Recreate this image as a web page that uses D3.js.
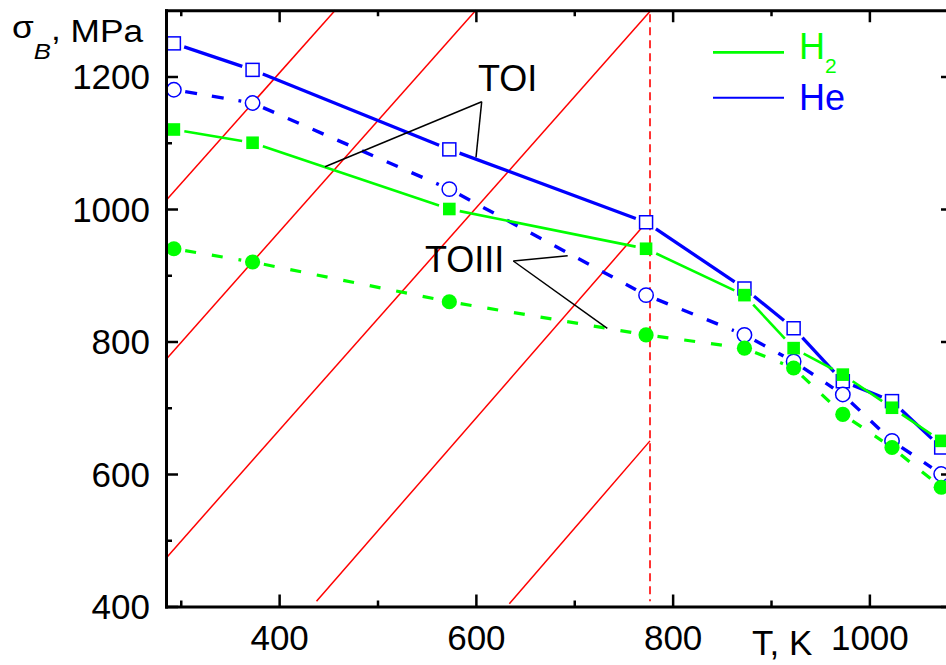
<!DOCTYPE html>
<html>
<head>
<meta charset="utf-8">
<script src="https://cdn.jsdelivr.net/npm/d3@7"></script>
<style>
  body { margin: 0; background: #fff; }
  svg { display: block; font-family: "Liberation Sans", Arial, sans-serif; }
</style>
</head>
<body>
<script>
// temperature, K
var temps = [293, 373, 573, 773, 873, 923, 973, 1023, 1073];
// ultimate strength sigma_B, MPa
var heTOI   = [1250, 1210, 1090, 980, 880, 820, 740, 710, 640];
var heTOIII = [1180, 1160, 1030, 870, 810, 770, 720, 650, 600];
var h2TOI   = [1120, 1100, 1000, 940, 870, 790, 750, 700, 650];
var h2TOIII = [940, 920, 860, 810, 790, 760, 690, 640, 580];

// thin red guide lines, end points as [T, MPa]
var guideLines = [
  [[285, 1013], [457, 1300]],
  [[285, 773], [600, 1300]],
  [[285, 473], [778, 1300]],
  [[438, 408], [777, 986]],
  [[634, 404], [777, 650]]
];
var tLimit = 777;

var xMajor = [400, 600, 800, 1000];
var xMinor = [300, 500, 700, 900];
var yMajor = [400, 600, 800, 1000, 1200];
var yMinor = [500, 700, 900, 1100];

var BLUE = "#0000ff", GREEN = "#00ff00", RED = "#ff0000";

var width = 946, height = 665;
var svg = d3.select("body").append("svg")
  .attr("width", width)
  .attr("height", height);

var x = d3.scaleLinear().domain([285, 1085]).range([166, 953]);
var y = d3.scaleLinear().domain([400, 1300]).range([606.5, 10.25]);
var fmt = d3.format("d");

// guide lines
svg.append("g").selectAll("line")
  .data(guideLines)
  .enter().append("line")
  .attr("x1", function(d) { return x(d[0][0]); })
  .attr("y1", function(d) { return y(d[0][1]); })
  .attr("x2", function(d) { return x(d[1][0]); })
  .attr("y2", function(d) { return y(d[1][1]); })
  .attr("stroke", RED)
  .attr("stroke-width", 1.5);

svg.append("line")
  .attr("x1", x(tLimit)).attr("x2", x(tLimit))
  .attr("y1", y(1294)).attr("y2", y(408))
  .attr("stroke", RED)
  .attr("stroke-width", 1.6)
  .attr("stroke-dasharray", "8,5");

// data series
var series = [
  { values: heTOI,   color: BLUE,  shape: "square", filled: false, dash: null,    lw: 3.3 },
  { values: heTOIII, color: BLUE,  shape: "circle", filled: false, dash: "12,15", lw: 3.4 },
  { values: h2TOI,   color: GREEN, shape: "square", filled: true,  dash: null,    lw: 2.6 },
  { values: h2TOIII, color: GREEN, shape: "circle", filled: true,  dash: "11,16", lw: 3.2 }
];

function edge(s, ux, uy) {
  if (s.shape === "square") {
    return 6.5 / Math.max(Math.abs(ux), Math.abs(uy));
  }
  return 7.5;
}

series.forEach(function(s) {
  var pts = temps.map(function(t, i) { return [x(t), y(s.values[i])]; });
  var segs = [];
  for (var i = 0; i < pts.length - 1; i++) {
    var p = pts[i], q = pts[i + 1];
    var dx = q[0] - p[0], dy = q[1] - p[1];
    var len = Math.sqrt(dx * dx + dy * dy);
    var ux = dx / len, uy = dy / len;
    var g = edge(s, ux, uy) + 4;
    if (len > 2 * g) {
      segs.push([p[0] + ux * g, p[1] + uy * g, q[0] - ux * g, q[1] - uy * g]);
    }
  }
  var g = svg.append("g");
  g.selectAll("line")
    .data(segs)
    .enter().append("line")
    .attr("x1", function(d) { return d[0]; })
    .attr("y1", function(d) { return d[1]; })
    .attr("x2", function(d) { return d[2]; })
    .attr("y2", function(d) { return d[3]; })
    .attr("stroke", s.color)
    .attr("stroke-width", s.lw)
    .attr("stroke-dasharray", s.dash);

  var fill = s.filled ? s.color : "#fff";
  var sw = s.filled ? 0 : 1.5;
  if (s.shape === "square") {
    var half = s.filled ? 6.3 : 6.5;
    g.selectAll("rect")
      .data(pts)
      .enter().append("rect")
      .attr("x", function(d) { return d[0] - half; })
      .attr("y", function(d) { return d[1] - half; })
      .attr("width", half * 2)
      .attr("height", half * 2)
      .attr("fill", fill)
      .attr("stroke", s.color)
      .attr("stroke-width", sw);
  } else {
    g.selectAll("circle")
      .data(pts)
      .enter().append("circle")
      .attr("cx", function(d) { return d[0]; })
      .attr("cy", function(d) { return d[1]; })
      .attr("r", s.filled ? 7.6 : 7.2)
      .attr("fill", fill)
      .attr("stroke", s.color)
      .attr("stroke-width", sw);
  }
});

// axes, ticks pointing inward
function styleAxis(sel) {
  sel.attr("font-size", 35).attr("font-family", null);
  sel.select(".domain").attr("stroke-width", 3).attr("stroke-linecap", "square");
  sel.selectAll(".tick line").attr("stroke-width", 2.5);
}
function addMinor(axis, pos, ticks) {
  svg.append("g")
    .attr("transform", pos)
    .call(axis.tickValues(ticks).tickSize(-6).tickSizeOuter(0).tickFormat(""))
    .call(function(sel) {
      sel.select(".domain").remove();
      sel.selectAll(".tick line").attr("stroke-width", 2.5);
    });
}

var bottom = svg.append("g")
  .attr("transform", "translate(0," + y(400) + ")")
  .call(d3.axisBottom(x).tickValues(xMajor).tickFormat(fmt).tickSize(-12).tickSizeOuter(0).tickPadding(0))
  .call(styleAxis);
bottom.selectAll(".tick text").attr("y", 43.5).attr("dy", null);
addMinor(d3.axisBottom(x), "translate(0," + y(400) + ")", xMinor);

svg.append("g")
  .attr("transform", "translate(0," + y(1300) + ")")
  .call(d3.axisTop(x).tickValues(xMajor).tickSize(-12).tickSizeOuter(0).tickFormat(""))
  .call(styleAxis);
addMinor(d3.axisTop(x), "translate(0," + y(1300) + ")", xMinor);

var left = svg.append("g")
  .attr("transform", "translate(" + x(285) + ",0)")
  .call(d3.axisLeft(y).tickValues(yMajor).tickFormat(fmt).tickSize(-12).tickSizeOuter(0).tickPadding(16))
  .call(styleAxis);
left.selectAll(".tick text").attr("dy", "0.35em");
addMinor(d3.axisLeft(y), "translate(" + x(285) + ",0)", yMinor);

svg.append("g")
  .attr("transform", "translate(" + x(1085) + ",0)")
  .call(d3.axisRight(y).tickValues(yMajor).tickSize(-12).tickSizeOuter(0).tickFormat(""))
  .call(styleAxis);
addMinor(d3.axisRight(y), "translate(" + x(1085) + ",0)", yMinor);

// axis titles
var yTitle = svg.append("text")
  .attr("transform", "translate(12,42) scale(1.12,1)")
  .attr("font-size", 31.5)
  .attr("fill", "#000");
yTitle.append("tspan").attr("dy", -4).text("σ");
yTitle.append("tspan").attr("dy", 21).attr("font-size", 23).attr("font-style", "italic").text("B");
yTitle.append("tspan").attr("dy", -19).text(",");
yTitle.append("tspan").attr("dy", 2).text(" MPa");

svg.append("text")
  .attr("x", 752).attr("y", 655)
  .attr("font-size", 35)
  .text("T, K");

// annotations
var notes = [
  { text: "TOI",   x: 478, y: 91,  from: [481.7, 101.7], to: [[325, 166.7], [476, 157.3]] },
  { text: "TOIII", x: 425, y: 272, from: [513.3, 261],   to: [[567.7, 255.7], [607.3, 328.3]] }
];
notes.forEach(function(n) {
  svg.append("text")
    .attr("x", n.x).attr("y", n.y)
    .attr("font-size", 36)
    .text(n.text);
  n.to.forEach(function(t) {
    svg.append("line")
      .attr("x1", n.from[0]).attr("y1", n.from[1])
      .attr("x2", t[0]).attr("y2", t[1])
      .attr("stroke", "#000")
      .attr("stroke-width", 1.5);
  });
});

// legend
var legend = [
  { name: "H", sub: "2", color: GREEN, y: 52.3, base: 59, lw: 2.7 },
  { name: "He", sub: null, color: BLUE, y: 97.7, base: 110, lw: 2 }
];
legend.forEach(function(l) {
  svg.append("line")
    .attr("x1", 713).attr("x2", 784)
    .attr("y1", l.y).attr("y2", l.y)
    .attr("stroke", l.color)
    .attr("stroke-width", l.lw);
  var t = svg.append("text")
    .attr("x", 799).attr("y", l.base)
    .attr("font-size", 36)
    .attr("fill", l.color)
    .text(l.name);
  if (l.sub) {
    t.append("tspan").attr("dy", 14).attr("font-size", 21).text(l.sub);
  }
});
</script>
</body>
</html>
